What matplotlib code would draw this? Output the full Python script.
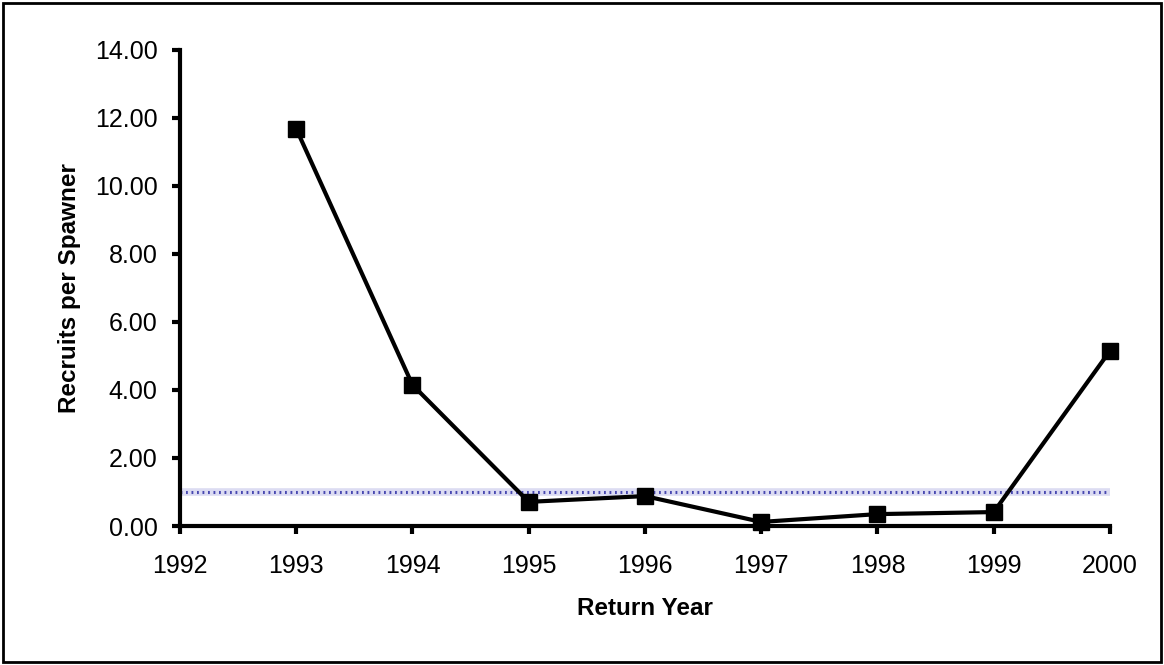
import matplotlib.pyplot as plt
import matplotlib.patches as patches

plt.rcParams["font.family"] = ["Liberation Sans", "DejaVu Sans"]

years = [1993, 1994, 1995, 1996, 1997, 1998, 1999, 2000]
rps = [11.68, 4.15, 0.71, 0.88, 0.12, 0.35, 0.41, 5.15]
replacement = 1.0
xticks = list(range(1992, 2001))
yticks = [0, 2, 4, 6, 8, 10, 12, 14]

fig = plt.figure(figsize=(11.64, 6.65), dpi=100)
ax = fig.add_axes([0.1546, 0.209, 0.799, 0.716])

# replacement line (dotted blue band)
ax.axhline(replacement, color="#dcdcf2", lw=5.5, zorder=1)
ax.axhline(replacement, color="#4848b0", lw=2.2, ls=(0, (0.6, 1.2)), zorder=2)

ax.plot(years, rps, color="black", lw=3, marker="s", ms=12, zorder=3, clip_on=False)

ax.set_xlim(1992, 2000)
ax.set_ylim(0, 14)
ax.set_xticks(xticks)
ax.set_yticks(yticks)
ax.set_yticklabels([f"{v:.2f}" for v in yticks])

for s in ["top", "right"]:
    ax.spines[s].set_visible(False)
for s in ["left", "bottom"]:
    ax.spines[s].set_linewidth(3)
ax.tick_params(direction="out", length=6, width=3, labelsize=18)
ax.tick_params(axis="x", pad=14)
ax.tick_params(axis="y", pad=10)

ax.set_xlabel("Return Year", fontsize=17.5, fontweight="bold", labelpad=14)
ax.set_ylabel("Recruits per Spawner", fontsize=17.5, fontweight="bold", labelpad=10)

fig.patches.append(patches.Rectangle((0.003, 0.004), 0.994, 0.992, transform=fig.transFigure,
                                     fill=False, edgecolor="black", lw=2))

fig.savefig("out.png", dpi=100)
